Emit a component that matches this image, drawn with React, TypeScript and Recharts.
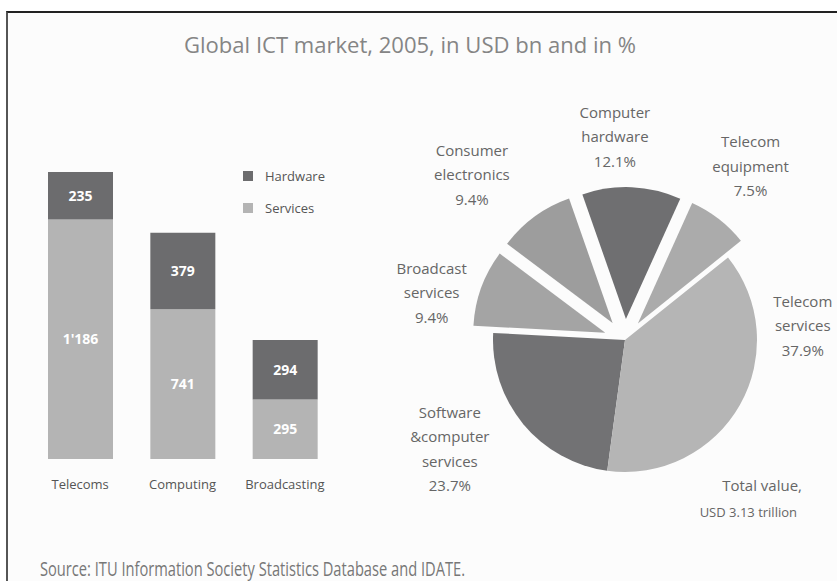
import React from "react";
import { BarChart, Bar, XAxis, YAxis, LabelList, PieChart, Pie, Cell } from "recharts";

// ---------- data ----------
const categories = ["Telecoms", "Computing", "Broadcasting"];
const hardwareValues = [235, 379, 294];
const servicesValues = [1186, 741, 295];
const seriesNames = ["Hardware", "Services"];

const pieSegments = [
  "Telecom equipment",
  "Computer hardware",
  "Consumer electronics",
  "Broadcast services",
  "Software & computer services",
  "Telecom services",
];
const pieLabelLines = [
  ["Telecom", "equipment"],
  ["Computer", "hardware"],
  ["Consumer", "electronics"],
  ["Broadcast", "services"],
  ["Software", "&computer", "services"],
  ["Telecom", "services"],
];
const pieShares = [7.5, 12.1, 9.4, 9.4, 23.7, 37.9];
const explodedSegments = [true, true, true, true, false, false];

const titleText = "Global ICT market, 2005, in USD bn and in %";
const sourceText = "Source:  ITU Information Society Statistics Database and IDATE.";
const totalLines = ["Total value,", "USD 3.13 trillion"];

// ---------- styles ----------
const FONT = "'Open Sans', 'Noto Sans', sans-serif";
const HW_COLOR = "#6c6c6e";
const SV_COLOR = "#b4b4b4";
const seriesColors = [HW_COLOR, SV_COLOR];
const pieColors = ["#ababab", "#6f6f71", "#9d9d9d", "#a4a4a4", "#727274", "#b5b5b5"];
const PIE_CX = 620;
const PIE_CY = 335;
const PIE_R = 132;
const PIE_START = 38.7;
const EXPLODE = 21;
const labelPlacement = [
  { r: 213, da: 0 },
  { r: 198, da: 4 },
  { r: 218, da: 6.6 },
  { r: 193, da: 7.4 },
  { r: 205, da: -5.7 },
  { r: 183, da: 32.3 },
];

const barData = categories.map((c, i) => ({
  category: c,
  hardware: hardwareValues[i],
  services: servicesValues[i],
}));

const pieData = pieSegments.map((name, i) => ({ name, share: pieShares[i] }));
const pieTotal = pieShares.reduce((a, b) => a + b, 0);
const pieMids: number[] = (() => {
  let acc = 0;
  return pieShares.map((v) => {
    const m = PIE_START + ((acc + v / 2) / pieTotal) * 360;
    acc += v;
    return m;
  });
})();

const RAD = Math.PI / 180;

const fmtThousands = (v: any) => {
  const n = Number(v);
  return n >= 1000 ? `${Math.floor(n / 1000)}'${String(n % 1000).padStart(3, "0")}` : String(n);
};

const renderPieLabel = (props: any) => {
  const i = props.index as number;
  const place = labelPlacement[i];
  const a = (pieMids[i] + place.da) * RAD;
  const x = PIE_CX + place.r * Math.cos(a);
  const y = PIE_CY - place.r * Math.sin(a);
  const lines = [...pieLabelLines[i], `${pieShares[i].toFixed(1)}%`];
  const step = 24.5;
  return (
    <text key={`lbl-${i}`} x={x} y={y} textAnchor="middle" fill="#666" fontSize={15} fontFamily={FONT}>
      {lines.map((ln, j) => (
        <tspan key={j} x={x} y={y + (j - (lines.length - 1) / 2) * step} dy="0.35em">
          {ln}
        </tspan>
      ))}
    </text>
  );
};

export default function App() {
  return (
    <div
      style={{
        position: "absolute",
        left: 0,
        top: 0,
        width: 837,
        height: 581,
        background: "#ffffff",
        fontFamily: FONT,
        overflow: "hidden",
      }}
    >
      <div
        style={{
          position: "absolute",
          left: 6,
          top: 11,
          width: 840,
          height: 580,
          borderTop: "2px solid #222",
          borderLeft: "2px solid #555",
          background: "#fcfcfc",
        }}
      />

      <div style={{ position: "absolute", left: 0, top: 0 }}>
        <BarChart
          width={345}
          height={500}
          data={barData}
          margin={{ top: 156, left: 29, right: 9, bottom: 11 }}
        >
          <YAxis hide domain={[0, 1500]} />
          <XAxis
            dataKey="category"
            axisLine={false}
            tickLine={false}
            height={30}
            tickMargin={15}
            interval={0}
            tick={{ fill: "#555", fontSize: 13, fontFamily: FONT }}
          />
          <Bar dataKey="services" stackId="a" fill={SV_COLOR} barSize={65} isAnimationActive={false}>
            <LabelList
              dataKey="services"
              position="center"
              fill="#ffffff"
              fontSize={14}
              fontWeight="bold"
              formatter={fmtThousands}
            />
          </Bar>
          <Bar dataKey="hardware" stackId="a" fill={HW_COLOR} barSize={65} isAnimationActive={false}>
            <LabelList
              dataKey="hardware"
              position="center"
              fill="#ffffff"
              fontSize={14}
              fontWeight="bold"
              formatter={fmtThousands}
            />
          </Bar>
        </BarChart>
      </div>

      <div style={{ position: "absolute", left: 243, top: 160, fontFamily: FONT }}>
        {seriesNames.map((n, i) => (
          <div key={n} style={{ display: "flex", alignItems: "center", height: 32 }}>
            <span
              style={{
                width: 10,
                height: 10,
                background: seriesColors[i],
                display: "inline-block",
                marginRight: 12,
              }}
            />
            <span style={{ fontSize: 13, color: "#555" }}>{n}</span>
          </div>
        ))}
      </div>

      <div style={{ position: "absolute", left: 0, top: 0 }}>
        <PieChart width={837} height={581}>
          {pieSegments.map((_, k) => {
            const off = explodedSegments[k] ? EXPLODE : 0;
            const m = pieMids[k] * RAD;
            return (
              <Pie
                key={`pie-${k}`}
                data={pieData}
                dataKey="share"
                nameKey="name"
                cx={PIE_CX + off * Math.cos(m)}
                cy={PIE_CY - off * Math.sin(m)}
                outerRadius={PIE_R}
                innerRadius={0}
                startAngle={PIE_START}
                endAngle={PIE_START + 360}
                stroke="none"
                labelLine={false}
                isAnimationActive={false}
              >
                {pieData.map((_d, i) => (
                  <Cell key={i} fill={i === k ? pieColors[i] : "transparent"} stroke="none" />
                ))}
              </Pie>
            );
          })}
          <Pie
            data={pieData}
            dataKey="share"
            nameKey="name"
            cx={PIE_CX}
            cy={PIE_CY}
            outerRadius={PIE_R}
            startAngle={PIE_START}
            endAngle={PIE_START + 360}
            stroke="none"
            fill="transparent"
            labelLine={false}
            label={renderPieLabel}
            isAnimationActive={false}
          >
            {pieData.map((_d, i) => (
              <Cell key={i} fill="transparent" stroke="none" />
            ))}
          </Pie>
        </PieChart>
      </div>

      <svg
        width={837}
        height={581}
        style={{ position: "absolute", left: 0, top: 0, pointerEvents: "none" }}
      >
        <text
          x={410}
          y={45}
          textAnchor="middle"
          dominantBaseline="central"
          fill="#858585"
          fontSize={21}
          fontFamily={FONT}
          textLength={452}
          lengthAdjust="spacingAndGlyphs"
        >
          {titleText}
        </text>
        <text x={802} y={485} textAnchor="end" dominantBaseline="central" fill="#666" fontSize={15} fontFamily={FONT}>
          {totalLines[0]}
        </text>
        <text x={797} y={512} textAnchor="end" dominantBaseline="central" fill="#666" fontSize={13} fontFamily={FONT}>
          {totalLines[1]}
        </text>
        <text
          x={40}
          y={568}
          dominantBaseline="central"
          fill="#777"
          fontSize={20}
          fontFamily={FONT}
          textLength={425}
          lengthAdjust="spacingAndGlyphs"
        >
          {sourceText}
        </text>
      </svg>
    </div>
  );
}
